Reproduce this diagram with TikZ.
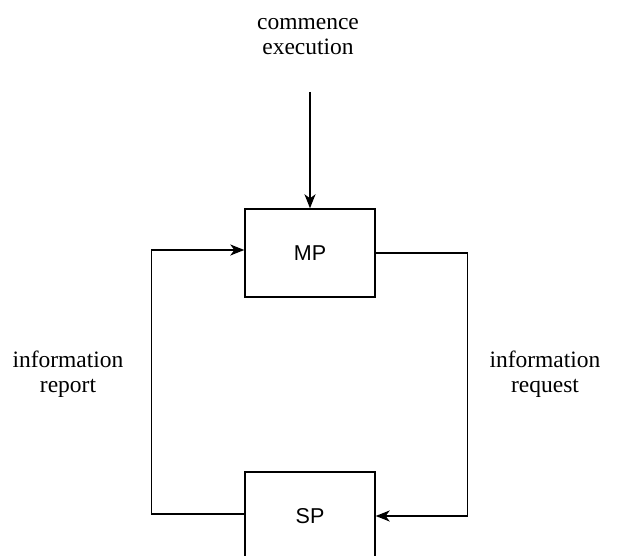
\documentclass[tikz,border=0pt]{standalone}
\usepackage{fontspec}
\setmainfont{Liberation Serif}
\setsansfont{Liberation Sans}
\usetikzlibrary{arrows.meta,positioning}
\tikzset{>={Stealth[inset=4pt,length=14pt,width=11pt]}}
\tikzset{procbox/.style={draw,line width=1.4pt,minimum width=130pt,minimum height=88pt,
    font=\sffamily\fontsize{21.5}{25}\selectfont},
  flowlabel/.style={align=center,font=\fontsize{23.5}{25}\selectfont}}

\begin{document}
\begin{tikzpicture}[x=1pt,y=-1pt,line width=1.4pt]
        \useasboundingbox (0,0) rectangle (625,556);
        \node[procbox] (mp) at (310,253) {MP};
        \node[procbox] (sp) at (310,516) {SP};
        \node[flowlabel] (start) at (308,37) {commence\\execution};
        \node[flowlabel] (report) at (68,374) {information\\report};
        \node[flowlabel] (request) at (545,374) {information\\request};
        \coordinate (entry) at (310,92);
        \draw[->] (entry)--(mp.north);
        \draw[->] ([yshift=2pt]sp.west)--++(-93,0) |- ([yshift=3pt]mp.west);
        \draw[->] (mp.east)--++(92,0) |- (sp.east);
    \end{tikzpicture}
\end{document}
